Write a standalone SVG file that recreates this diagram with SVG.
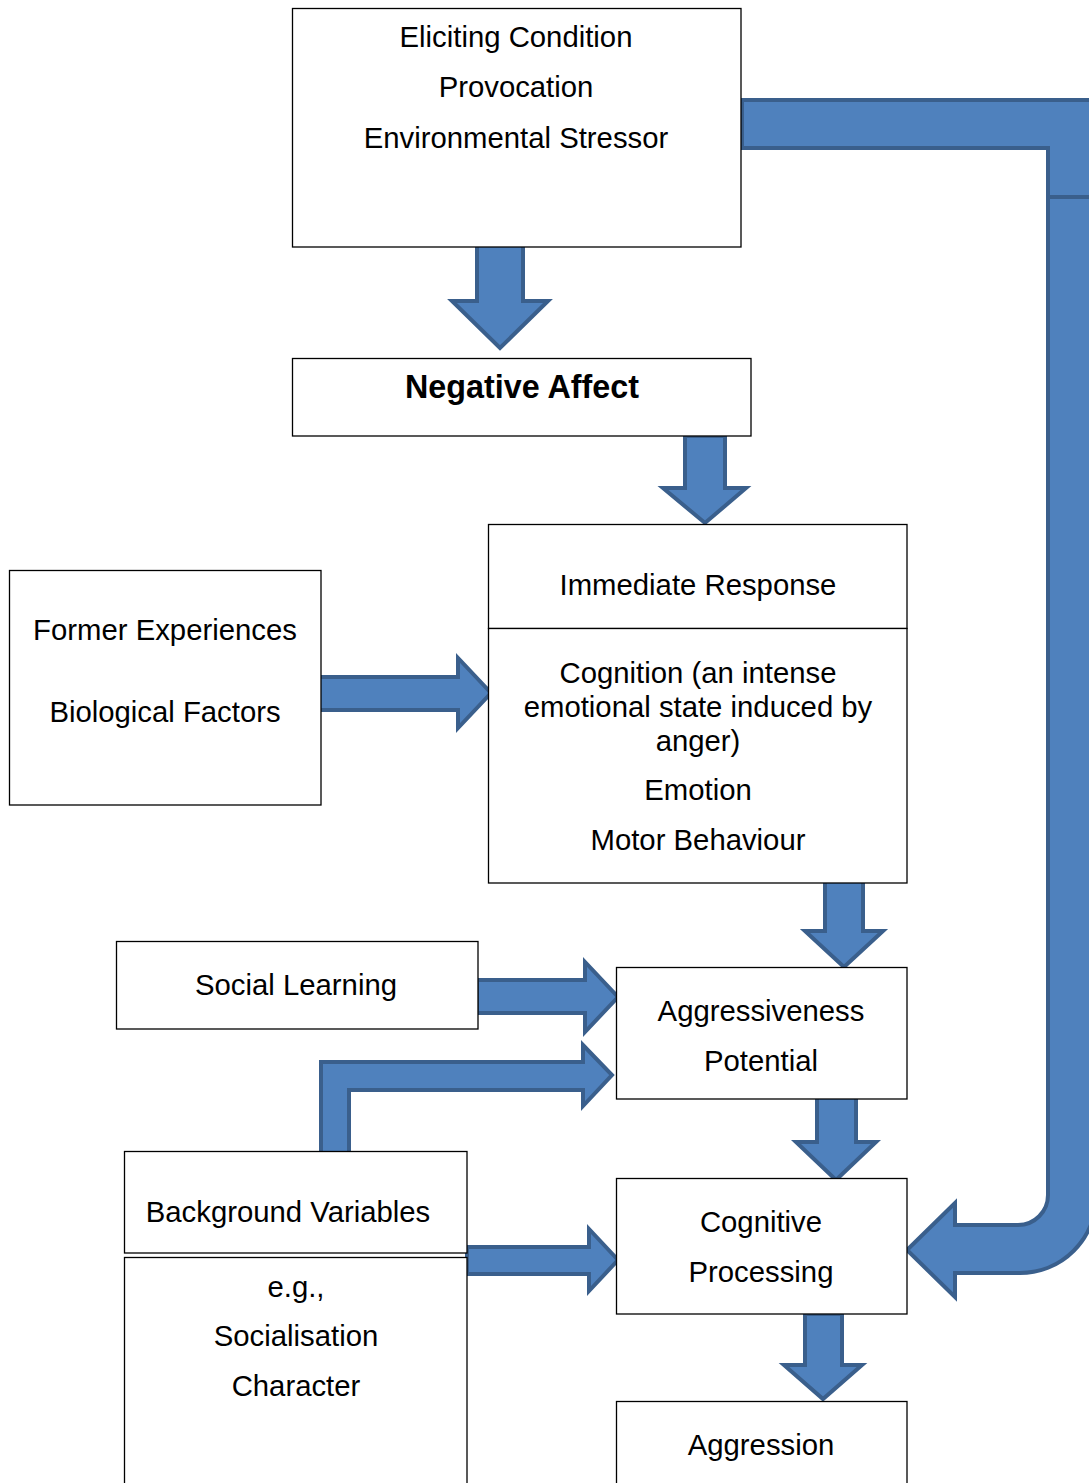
<svg xmlns="http://www.w3.org/2000/svg" width="1089" height="1483" viewBox="0 0 1089 1483">
  <style>
    .box { fill: #ffffff; stroke: #000000; stroke-width: 1.3; }
    .arrow { fill: #4F81BD; stroke: #3A5F8C; stroke-width: 4; stroke-linejoin: miter; }
    .t { font-family: "Liberation Sans", Arial, sans-serif; font-size: 29.3px; fill: #000000; text-anchor: middle; }
    .b { font-weight: bold; font-size: 32.3px; }
  </style>
  <rect width="1089" height="1483" fill="#ffffff"/>

  <!-- block arrows -->
  <g id="connectors">
    <!-- feedback path: eliciting condition round to cognitive processing -->
    <path class="arrow" d="M742,100 H1100 V197 H1048 V148 H742 Z"/>
    <path class="arrow" d="M1048,197 H1096 V1197 A76,76 0 0 1 1020,1273 H955 V1297 L907,1250 L955,1203 V1225 H1018 A30,30 0 0 0 1048,1195 Z"/>
    <!-- eliciting -> negative affect -->
    <polygon class="arrow" points="477,245 523,245 523,301 548,301 500,348 452,301 477,301"/>
    <!-- negative affect -> immediate response -->
    <polygon class="arrow" points="685,436 725,436 725,488 746,488 705,523 663,488 685,488"/>
    <!-- former experiences -> immediate response -->
    <polygon class="arrow" points="319,677 458,677 458,658 491,693 458,728 458,710 319,710"/>
    <!-- immediate response -> aggressiveness -->
    <polygon class="arrow" points="825,881 863,881 863,931 883,931 844,967 805,931 825,931"/>
    <!-- social learning -> aggressiveness -->
    <polygon class="arrow" points="477,980 585,980 585,962 618,997 585,1032 585,1013 477,1013"/>
    <!-- background variables -> aggressiveness -->
    <polygon class="arrow" points="321,1154 321,1062 583,1062 583,1045 612,1075 583,1106 583,1090 349,1090 349,1154"/>
    <!-- aggressiveness -> cognitive processing -->
    <polygon class="arrow" points="817,1097 856,1097 856,1142 876,1142 836,1180 796,1142 817,1142"/>
    <!-- background variables -> cognitive processing -->
    <polygon class="arrow" points="467,1247 589,1247 589,1229 618,1260 589,1291 589,1274 467,1274"/>
    <!-- cognitive processing -> aggression -->
    <polygon class="arrow" points="805,1314 842,1314 842,1365 862,1365 823,1399 784,1365 805,1365"/>
  </g>

  <g id="eliciting">
    <rect class="box" x="292.5" y="8.5" width="448.5" height="238.5"/>
    <text class="t" x="516" y="47">Eliciting Condition</text>
    <text class="t" x="516" y="97">Provocation</text>
    <text class="t" x="516" y="148">Environmental Stressor</text>
  </g>

  <g id="negative-affect">
    <rect class="box" x="292.5" y="358.5" width="458.5" height="77.5"/>
    <text class="t b" x="522" y="398">Negative Affect</text>
  </g>

  <g id="immediate-response">
    <rect class="box" x="488.5" y="524.5" width="418.5" height="104"/>
    <text class="t" x="698" y="595">Immediate Response</text>
    <rect class="box" x="488.5" y="628.5" width="418.5" height="254.5"/>
    <text class="t" x="698" y="683">Cognition (an intense</text>
    <text class="t" x="698" y="717">emotional state induced by</text>
    <text class="t" x="698" y="751">anger)</text>
    <text class="t" x="698" y="800">Emotion</text>
    <text class="t" x="698" y="850">Motor Behaviour</text>
  </g>

  <g id="former-experiences">
    <rect class="box" x="9.5" y="570.5" width="311.5" height="234.5"/>
    <text class="t" x="165" y="640">Former Experiences</text>
    <text class="t" x="165" y="722">Biological Factors</text>
  </g>

  <g id="social-learning">
    <rect class="box" x="116.5" y="941.5" width="361.5" height="87.5"/>
    <text class="t" x="296" y="995">Social Learning</text>
  </g>

  <g id="aggressiveness">
    <rect class="box" x="616.5" y="967.5" width="290.5" height="131.5"/>
    <text class="t" x="761" y="1021">Aggressiveness</text>
    <text class="t" x="761" y="1071">Potential</text>
  </g>

  <g id="background-variables">
    <rect class="box" x="124.5" y="1151.5" width="342.5" height="101.5"/>
    <text class="t" x="288" y="1222">Background Variables</text>
    <rect class="box" x="124.5" y="1257.5" width="342.5" height="240"/>
    <text class="t" x="296" y="1297">e.g.,</text>
    <text class="t" x="296" y="1346">Socialisation</text>
    <text class="t" x="296" y="1396">Character</text>
  </g>

  <g id="cognitive-processing">
    <rect class="box" x="616.5" y="1178.5" width="290.5" height="135.5"/>
    <text class="t" x="761" y="1232">Cognitive</text>
    <text class="t" x="761" y="1282">Processing</text>
  </g>

  <g id="aggression">
    <rect class="box" x="616.5" y="1401.5" width="290.5" height="100"/>
    <text class="t" x="761" y="1455">Aggression</text>
  </g>
</svg>
